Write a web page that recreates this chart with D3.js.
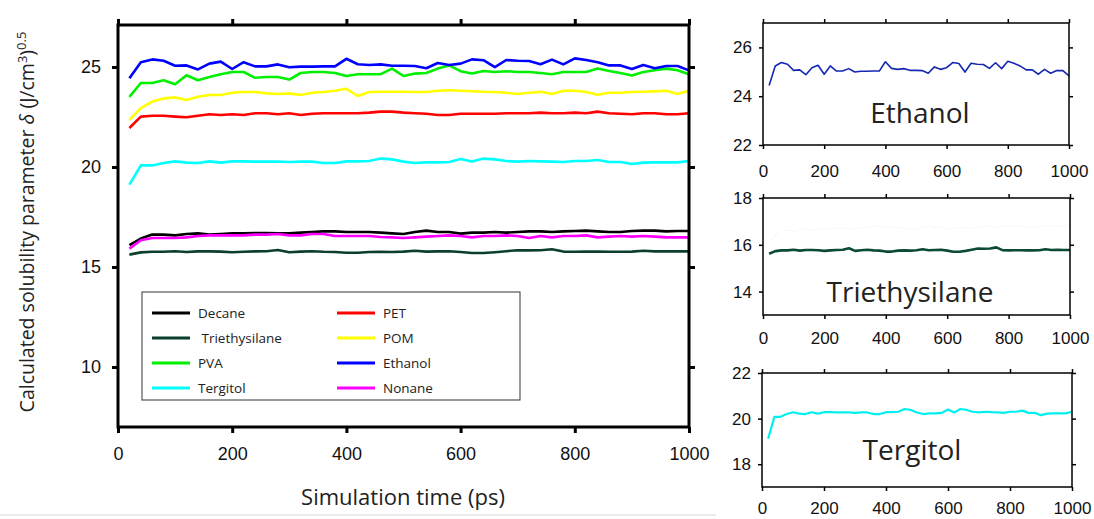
<!doctype html>
<html lang="en">
<head>
<meta charset="utf-8">
<title>Solubility parameter</title>
<script src="https://d3js.org/d3.v7.min.js"></script>
<style>
  body { margin: 0; background: #fff; }
  svg { display: block; }
  .tick text { font-family: "Liberation Sans", Arial, sans-serif; fill: #111; }
  .lbl { font-family: "Open Sans", "Noto Sans", sans-serif; fill: #222; }
</style>
</head>
<body>
<div class="chart-container"></div>
<script>
  // time points (ps)
  const times = d3.range(20, 1001, 20);

  const decane = [16.09, 16.42, 16.62, 16.62, 16.58, 16.65, 16.68, 16.62, 16.65, 16.68,
    16.68, 16.70, 16.70, 16.68, 16.68, 16.72, 16.75, 16.78, 16.78, 16.75,
    16.75, 16.75, 16.72, 16.68, 16.65, 16.75, 16.82, 16.75, 16.75, 16.67,
    16.72, 16.72, 16.75, 16.72, 16.75, 16.78, 16.78, 16.75, 16.78, 16.80,
    16.82, 16.78, 16.75, 16.75, 16.80, 16.82, 16.82, 16.78, 16.80, 16.80];
  const triethysilane = [15.62, 15.73, 15.76, 15.76, 15.79, 15.75, 15.78, 15.78, 15.77, 15.74,
    15.76, 15.78, 15.79, 15.85, 15.74, 15.77, 15.79, 15.76, 15.75, 15.71,
    15.71, 15.75, 15.76, 15.75, 15.77, 15.81, 15.77, 15.78, 15.79, 15.75,
    15.70, 15.70, 15.74, 15.79, 15.84, 15.83, 15.84, 15.89, 15.77, 15.76,
    15.77, 15.77, 15.76, 15.76, 15.77, 15.81, 15.78, 15.79, 15.78, 15.78];
  const pva = [23.51, 24.20, 24.20, 24.34, 24.14, 24.59, 24.34, 24.50, 24.64, 24.75,
    24.75, 24.46, 24.50, 24.50, 24.37, 24.70, 24.75, 24.75, 24.70, 24.55,
    24.64, 24.64, 24.64, 24.92, 24.55, 24.67, 24.70, 24.92, 25.08, 24.79,
    24.67, 24.80, 24.75, 24.79, 24.75, 24.75, 24.70, 24.64, 24.75, 24.75,
    24.75, 24.92, 24.80, 24.70, 24.57, 24.75, 24.84, 24.92, 24.84, 24.64];
  const tergitol = [19.12, 20.08, 20.08, 20.20, 20.28, 20.22, 20.20, 20.28, 20.22, 20.28,
    20.28, 20.27, 20.27, 20.27, 20.25, 20.27, 20.27, 20.20, 20.20, 20.28,
    20.28, 20.30, 20.42, 20.38, 20.27, 20.20, 20.23, 20.23, 20.25, 20.40,
    20.27, 20.42, 20.38, 20.30, 20.27, 20.30, 20.28, 20.27, 20.25, 20.30,
    20.30, 20.35, 20.25, 20.25, 20.15, 20.22, 20.23, 20.23, 20.23, 20.30];
  const pet = [21.95, 22.52, 22.56, 22.56, 22.52, 22.49, 22.56, 22.64, 22.60, 22.64,
    22.60, 22.69, 22.69, 22.64, 22.69, 22.60, 22.66, 22.69, 22.69, 22.69,
    22.69, 22.72, 22.77, 22.77, 22.72, 22.69, 22.66, 22.60, 22.60, 22.66,
    22.66, 22.66, 22.66, 22.69, 22.69, 22.69, 22.72, 22.69, 22.69, 22.72,
    22.69, 22.77, 22.69, 22.66, 22.64, 22.69, 22.69, 22.64, 22.64, 22.69];
  const pom = [22.36, 22.94, 23.27, 23.43, 23.48, 23.35, 23.51, 23.60, 23.60, 23.71,
    23.75, 23.75, 23.68, 23.65, 23.68, 23.60, 23.71, 23.75, 23.81, 23.91,
    23.55, 23.75, 23.76, 23.76, 23.76, 23.75, 23.75, 23.81, 23.84, 23.81,
    23.79, 23.76, 23.75, 23.71, 23.65, 23.71, 23.76, 23.65, 23.81, 23.81,
    23.75, 23.61, 23.71, 23.71, 23.75, 23.76, 23.78, 23.81, 23.65, 23.81];
  const ethanol = [24.44, 25.24, 25.38, 25.31, 25.06, 25.08, 24.88, 25.17, 25.27, 24.90,
    25.24, 25.03, 25.03, 25.13, 24.99, 25.02, 25.02, 25.03, 25.03, 25.41,
    25.14, 25.10, 25.13, 25.06, 25.06, 25.05, 24.94, 25.20, 25.10, 25.17,
    25.38, 25.34, 24.99, 25.35, 25.31, 25.30, 25.14, 25.37, 25.13, 25.43,
    25.35, 25.24, 25.08, 25.08, 24.90, 25.10, 24.94, 25.05, 25.05, 24.83];
  const nonane = [15.92, 16.34, 16.45, 16.45, 16.45, 16.48, 16.55, 16.58, 16.58, 16.58,
    16.58, 16.62, 16.62, 16.65, 16.58, 16.58, 16.65, 16.65, 16.55, 16.55,
    16.55, 16.55, 16.50, 16.48, 16.45, 16.48, 16.52, 16.55, 16.58, 16.55,
    16.48, 16.55, 16.55, 16.58, 16.55, 16.45, 16.55, 16.48, 16.55, 16.55,
    16.58, 16.48, 16.52, 16.55, 16.52, 16.55, 16.52, 16.48, 16.48, 16.48];

  const seriesNames = ['Decane', ' Triethysilane', 'PVA', 'Tergitol', 'PET', 'POM', 'Ethanol', 'Nonane'];
  const seriesData = [decane, triethysilane, pva, tergitol, pet, pom, ethanol, nonane];
  const seriesColors = ['#000000', '#0b3f2c', '#00f000', '#00ffff', '#ff0000', '#ffff00', '#0000ff', '#ff00ff'];

  const xTicks = [0, 200, 400, 600, 800, 1000];
  const mainYTicks = [10, 15, 20, 25];

  const width = 1094, height = 519;
  const svg = d3.select('.chart-container').append('svg')
    .attr('width', width)
    .attr('height', height);

  // faint scan border at the bottom
  svg.append('line')
    .attr('x1', 0).attr('x2', 716).attr('y1', 515).attr('y2', 515)
    .attr('stroke', '#e4e4e4').attr('stroke-width', 1.5);

  // ---------- main chart ----------
  const x = d3.scaleLinear().domain([0, 1000]).range([118, 689]);
  const y = d3.scaleLinear().domain([7, 27.1]).range([427, 25]);

  const lineMain = (arr) => d3.line()
    .x((d, i) => x(times[i]))
    .y(d => y(d))(arr);

  const drawOrder = [3, 4, 5, 2, 6, 0, 7, 1];
  drawOrder.forEach(k => {
    svg.append('path')
      .attr('d', lineMain(seriesData[k]))
      .attr('fill', 'none')
      .attr('stroke', seriesColors[k])
      .attr('stroke-width', 2.6)
      .attr('stroke-linejoin', 'round');
  });

  const fmt = d3.format('d');

  function frameAxes(g, xs, ys, yt, opt) {
    g.append('g')
      .attr('transform', `translate(0,${ys.range()[0]})`)
      .call(d3.axisBottom(xs).tickValues(xTicks).tickFormat(fmt).tickSize(opt.tick).tickPadding(opt.xpad).tickSizeOuter(0))
      .call(a => a.select('.domain').remove())
      .call(a => a.selectAll('.tick line').attr('stroke-width', opt.sw))
      .call(a => a.selectAll('.tick text').attr('font-size', opt.fs));
    g.append('g')
      .attr('transform', `translate(0,${ys.range()[1]})`)
      .call(d3.axisTop(xs).tickValues(xTicks).tickSize(opt.tick).tickFormat('').tickSizeOuter(0))
      .call(a => a.select('.domain').remove())
      .call(a => a.selectAll('.tick line').attr('stroke-width', opt.sw));
    g.append('g')
      .attr('transform', `translate(${xs.range()[0]},0)`)
      .call(d3.axisLeft(ys).tickValues(yt).tickFormat(fmt).tickSize(opt.tick).tickPadding(opt.ypad).tickSizeOuter(0))
      .call(a => a.select('.domain').remove())
      .call(a => a.selectAll('.tick line').attr('stroke-width', opt.sw))
      .call(a => a.selectAll('.tick text').attr('font-size', opt.fs));
    g.append('g')
      .attr('transform', `translate(${xs.range()[1]},0)`)
      .call(d3.axisRight(ys).tickValues(yt).tickSize(opt.tick).tickFormat('').tickSizeOuter(0))
      .call(a => a.select('.domain').remove())
      .call(a => a.selectAll('.tick line').attr('stroke-width', opt.sw));
    g.append('rect')
      .attr('x', xs.range()[0]).attr('y', ys.range()[1])
      .attr('width', xs.range()[1] - xs.range()[0])
      .attr('height', ys.range()[0] - ys.range()[1])
      .attr('fill', 'none').attr('stroke', '#000').attr('stroke-width', opt.sw);
  }

  frameAxes(svg.append('g'), x, y, mainYTicks, { tick: 6, xpad: 14, ypad: 11, sw: 3, fs: 18 });

  // axis titles
  svg.append('text')
    .attr('class', 'lbl')
    .attr('x', 403).attr('y', 505)
    .attr('text-anchor', 'middle')
    .attr('font-size', 22)
    .text('Simulation time (ps)');

  const yl = svg.append('text')
    .attr('class', 'lbl')
    .attr('transform', 'translate(34,222) rotate(-90)')
    .attr('text-anchor', 'middle')
    .attr('font-size', 19.5);
  yl.append('tspan').text('Calculated solubility parameter ');
  yl.append('tspan').attr('font-style', 'italic').text('δ');
  yl.append('tspan').text(' (J/cm');
  yl.append('tspan').attr('font-size', 13).attr('dy', -7).text('3');
  yl.append('tspan').attr('dy', 7).text(')');
  yl.append('tspan').attr('font-size', 13).attr('dy', -8).text('0.5');

  // legend
  const leg = svg.append('g');
  leg.append('rect')
    .attr('x', 142).attr('y', 292).attr('width', 378).attr('height', 108)
    .attr('fill', '#fff').attr('stroke', '#333').attr('stroke-width', 1);
  seriesNames.forEach((name, i) => {
    const col = Math.floor(i / 4), row = i % 4;
    const lx = col === 0 ? 152 : 337;
    const ly = 313 + row * 25;
    leg.append('line')
      .attr('x1', lx).attr('x2', lx + 38).attr('y1', ly).attr('y2', ly)
      .attr('stroke', seriesColors[i]).attr('stroke-width', 3);
    leg.append('text')
      .attr('class', 'lbl')
      .attr('x', lx + 46).attr('y', ly + 5)
      .attr('font-size', 13.5)
      .attr('fill', '#333')
      .style('white-space', 'pre')
      .text(name);
  });

  // ---------- small panels ----------
  const panels = [
    { data: ethanol, color: '#1428b4', sw: 1.6, x0: 763, x1: 1069, y0: 145, y1: 23, dom: [22, 27], ticks: [22, 24, 26], name: 'Ethanol', tx: 920, ty: 123, pad: 16 },
    { data: triethysilane, color: '#0b4a34', sw: 2.6, x0: 763, x1: 1070, y0: 315, y1: 198, dom: [13, 18], ticks: [14, 16, 18], name: 'Triethysilane', tx: 910, ty: 302, pad: 13, ghost: decane },
    { data: tergitol, color: '#00f0f0', sw: 2.2, x0: 762, x1: 1072, y0: 487, y1: 373, dom: [17, 22], ticks: [18, 20, 22], name: 'Tergitol', tx: 912, ty: 460, pad: 11 }
  ];

  panels.forEach(p => {
    const g = svg.append('g');
    const px = d3.scaleLinear().domain([0, 1000]).range([p.x0, p.x1]);
    const py = d3.scaleLinear().domain(p.dom).range([p.y0, p.y1]);
    const ln = d3.line().x((d, i) => px(times[i])).y(d => py(d));
    if (p.ghost) {
      g.append('path')
        .attr('d', ln(p.ghost))
        .attr('fill', 'none')
        .attr('stroke', '#ececec')
        .attr('stroke-width', 1)
        .attr('stroke-dasharray', '1.5,2.5');
    }
    g.append('path')
      .attr('d', ln(p.data))
      .attr('fill', 'none')
      .attr('stroke', p.color)
      .attr('stroke-width', p.sw)
      .attr('stroke-linejoin', 'round');
    frameAxes(g, px, py, p.ticks, { tick: 4, xpad: p.pad, ypad: 7, sw: 1.5, fs: 17 });
    g.append('text')
      .attr('class', 'lbl')
      .attr('x', p.tx).attr('y', p.ty)
      .attr('text-anchor', 'middle')
      .attr('font-size', 28)
      .attr('fill', '#111')
      .text(p.name);
  });
</script>
</body>
</html>
